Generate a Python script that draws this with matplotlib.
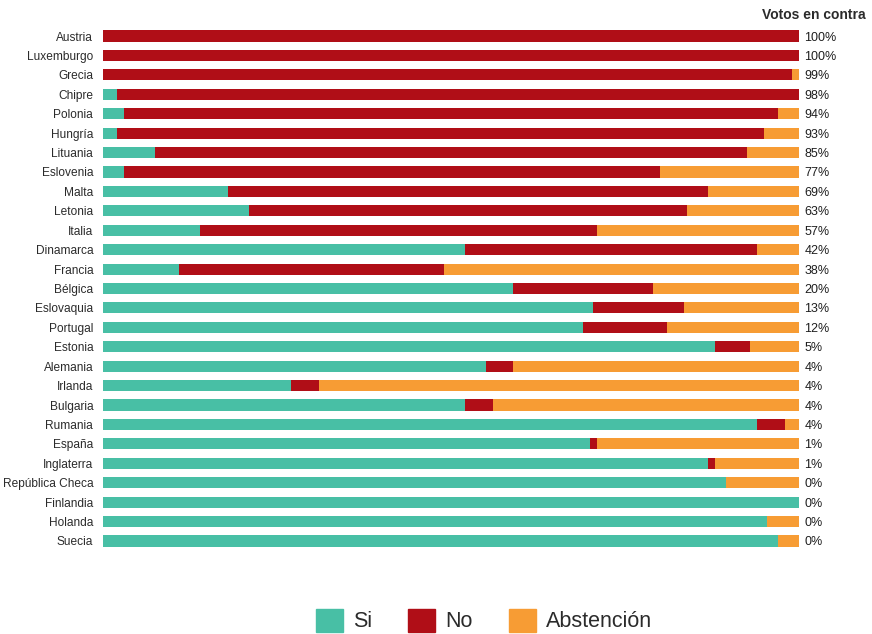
import numpy as np
import matplotlib.pyplot as plt
from matplotlib.patches import Patch

plt.rcParams['font.family'] = ['Liberation Sans', 'DejaVu Sans']

paises = ["Austria", "Luxemburgo", "Grecia", "Chipre", "Polonia", "Hungría",
          "Lituania", "Eslovenia", "Malta", "Letonia", "Italia", "Dinamarca",
          "Francia", "Bélgica", "Eslovaquia", "Portugal", "Estonia", "Alemania",
          "Irlanda", "Bulgaria", "Rumania", "España", "Inglaterra",
          "República Checa", "Finlandia", "Holanda", "Suecia"]
si = [0, 0, 0, 2, 3, 2, 7.5, 3, 18, 21, 14, 52, 11, 59, 70.5, 69, 88, 55,
      27, 52, 94, 70, 87, 89.5, 100, 95.5, 97]
no = [100, 100, 99, 98, 94, 93, 85, 77, 69, 63, 57, 42, 38, 20, 13, 12, 5, 4,
      4, 4, 4, 1, 1, 0, 0, 0, 0]
abstencion = [0, 0, 1, 0, 3, 5, 7.5, 20, 13, 16, 29, 6, 51, 21, 16.5, 19, 7,
              41, 69, 44, 2, 29, 12, 10.5, 0, 4.5, 3]

c_si = "#48bfa5"
c_no = "#b00e17"
c_abs = "#f79c34"
gris = "#2b2b2b"

si = np.array(si)
no = np.array(no)
abstencion = np.array(abstencion)
y = np.arange(len(paises))

fig = plt.figure(figsize=(8.72, 6.34), dpi=100)
ax = fig.add_axes([0.118, 0.1314, 0.798, 0.8271])

h = 0.57
ax.barh(y, si, height=h, color=c_si)
ax.barh(y, no, left=si, height=h, color=c_no)
ax.barh(y, abstencion, left=si + no, height=h, color=c_abs)

ax.set_xlim(0, 100)
ax.set_ylim(len(paises) - 0.5, -0.5)
ax.set_yticks(y)
ax.set_yticklabels(paises, fontsize=8.6, color=gris, va='center_baseline')
ax.tick_params(axis='y', length=0, pad=7)
ax.set_xticks([])
for s in ax.spines.values():
    s.set_visible(False)

# porcentaje de votos en contra
for i, v in enumerate(no):
    ax.text(100.8, i, f"{v:.0f}%", va='center_baseline', ha='left',
            fontsize=9, color="#1e1e1e")
fig.text(0.874, 0.977, "Votos en contra", ha='left', va='center',
         fontsize=10, fontweight='bold', color=gris)

handles = [Patch(color=c_si), Patch(color=c_no), Patch(color=c_abs)]
fig.legend(handles, ["Si", "No", "Abstención"], loc='lower center',
           bbox_to_anchor=(0.555, -0.028), ncol=3, frameon=False,
           fontsize=15.5, handlelength=1.25, handleheight=1.25,
           handletextpad=0.45, columnspacing=1.7, labelcolor=gris)

fig.savefig("out.png", dpi=100)
